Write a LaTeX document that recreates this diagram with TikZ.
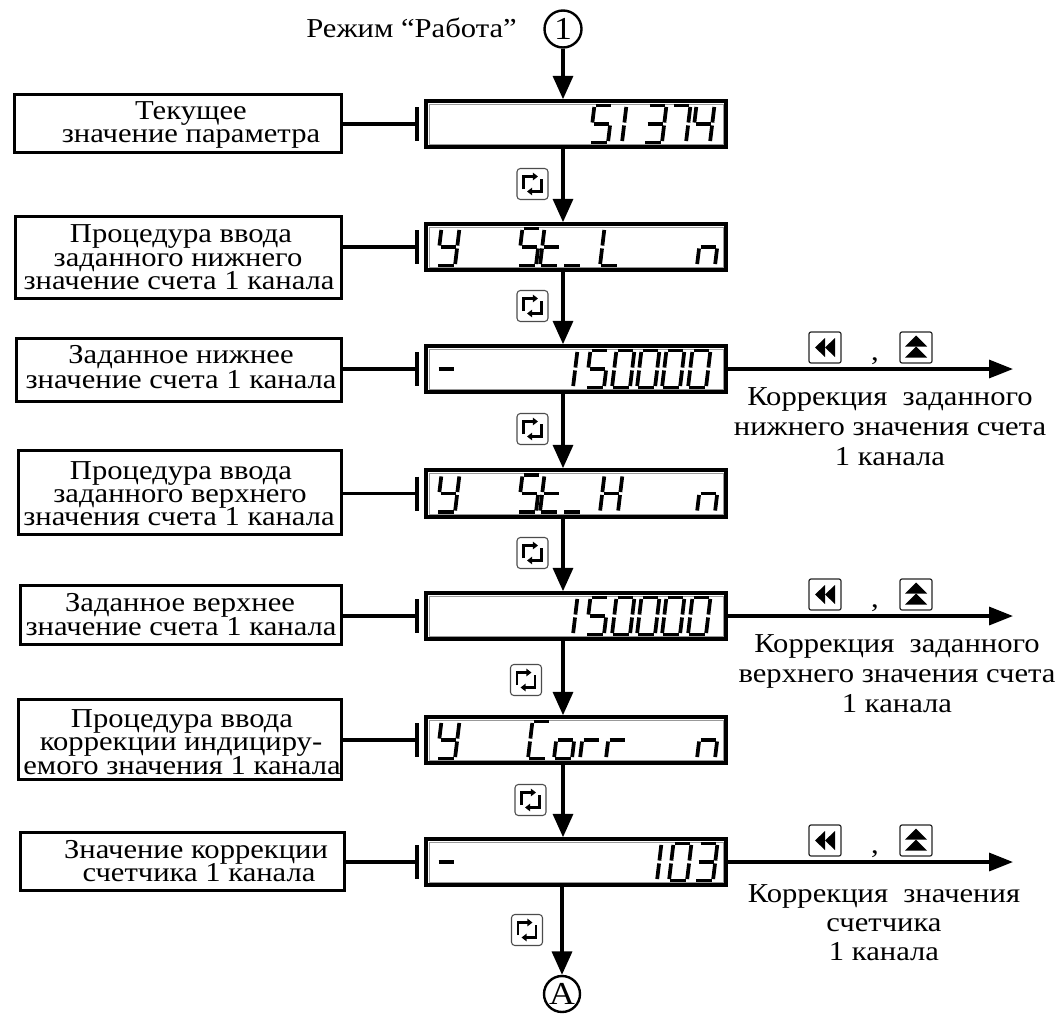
\documentclass[tikz,border=0pt]{standalone}
\usepackage{fontspec}
\setmainfont{Liberation Serif}[FakeStretch=1.12]
\usetikzlibrary{arrows.meta,fit}

% seven-segment pieces (unit cell, y up)
\newcommand\segA{\draw[segl] (0,1)--(1,1);}
\newcommand\segB{\draw[segl] (1,1)--(1,.5);}
\newcommand\segC{\draw[segl] (1,.5)--(1,0);}
\newcommand\segD{\draw[segl] (0,0)--(1,0);}
\newcommand\segE{\draw[segl] (0,0)--(0,.5);}
\newcommand\segF{\draw[segl] (0,.5)--(0,1);}
\newcommand\segG{\draw[segl] (0,.5)--(1,.5);}
\newcommand\glyph[3]{\begin{scope}[shift={(#1,#2)},x=13.5pt,y=27.75pt,xslant=0.12]#3\end{scope}}
\newcommand\ssZero{\segA\segB\segC\segD\segE\segF}
\newcommand\ssOne{\segE\segF}
\newcommand\ssThree{\segA\segB\segC\segD\segG}
\newcommand\ssFour{\segF\segG\segB\segC}
\newcommand\ssFive{\segA\segF\segG\segC\segD}
\newcommand\ssSeven{\segA\segB\segC}
\newcommand\ssY{\segF\segB\segG\segC\segD}
\newcommand\ssT{\segF\segE\segG\segD}
\newcommand\ssUnder{\segD}
\newcommand\ssL{\segF\segE\segD}
\newcommand\ssH{\segB\segC\segE\segF\segG}
\newcommand\ssN{\segE\segG\segC}
\newcommand\ssC{\segA\segF\segE\segD}
\newcommand\ssO{\segG\segC\segD\segE}
\newcommand\ssR{\segE\segG}
\newcommand\ssMinus{\segG}

\newcommand\cycicon[3]{%
  \node[cycbox] (#1) at (#2,#3) {};
  \draw[cyca] ([shift={(-9,5)}]#1.center) -- ([shift={(-9,-7.5)}]#1.center) -- ([shift={(5.5,-7.5)}]#1.center);
  \draw[cyca] ([shift={(9,-5)}]#1.center) -- ([shift={(9,7.5)}]#1.center) -- ([shift={(-5.5,7.5)}]#1.center);
}
\newcommand\keyset[2]{%
  \node[keybox] (#1rw) at (825,#2-21.5) {};
  \fill ([shift={(-10,0)}]#1rw.center) -- ([shift={(0,-9.5)}]#1rw.center) -- ([shift={(0,9.5)}]#1rw.center) -- cycle;
  \fill (#1rw.center) -- ([shift={(10,-9.5)}]#1rw.center) -- ([shift={(10,9.5)}]#1rw.center) -- cycle;
  \node[txt] (#1cm) at (875,#2-9) {,};
  \node[keybox] (#1up) at (916,#2-21.5) {};
  \fill ([shift={(0,-12)}]#1up.center) -- ([shift={(-11,-1)}]#1up.center) -- ([shift={(11,-1)}]#1up.center) -- cycle;
  \fill ([shift={(0,-1)}]#1up.center) -- ([shift={(-11,10)}]#1up.center) -- ([shift={(11,10)}]#1up.center) -- cycle;
}
\newcommand\innerframe[1]{%
  \draw[innerl] ([xshift=3.6pt,yshift=-3.6pt]#1.north west) rectangle ([xshift=-3.6pt,yshift=3.6pt]#1.south east);}

\begin{document}
\begin{tikzpicture}[x=0.75pt,y=-0.75pt,
  txt/.style={font=\fontsize{20.5}{20.5}\selectfont, inner sep=0pt, anchor=base, text height=12.5pt, text depth=3pt},
  big/.style={font=\fontsize{24}{24}\selectfont},
  lbox/.style={draw, line width=2.3pt, inner sep=0pt},
  disp/.style={draw, line width=2.7pt, inner sep=0pt},
  innerl/.style={draw=black!40, line width=0.45pt},
  tconn/.style={line width=2.5pt, -{Bar[width=25.5pt, line width=2.7pt]}},
  flow/.style={line width=2.5pt, -{Triangle[length=17.5pt,width=15pt]}},
  side/.style={line width=2.5pt, -{Triangle[length=18pt,width=13.5pt]}},
  circ/.style={circle, draw, line width=1.8pt, inner sep=0pt},
  segl/.style={line width=2.8pt, shorten <=1.1pt, shorten >=1.1pt},
  cycbox/.style={draw=black!70, line width=0.8pt, rounded corners=2.5pt, minimum size=23.25pt, inner sep=0pt},
  cyca/.style={line width=1.7pt, -{Triangle[length=3.8pt,width=5.5pt]}},
  keybox/.style={draw=black!85, line width=0.9pt, rounded corners=1.5pt, minimum width=24pt, minimum height=23.25pt, inner sep=0pt}
]
\path[fill=white, use as bounding box] (0,0) rectangle (1056,1014);

% title and start circle
\node[txt] (title) at (411.5,37) {Режим “Работа”};
\node[circ, minimum size=27.75pt] (C1) at (563,29) {};
\node[big, inner sep=0pt] (C1t) at (C1.center) {1};

% displays
\node[disp, fit={(426,101) (726,147)}] (D1) {};
\node[disp, fit={(426,224) (726,270)}] (D2) {};
\node[disp, fit={(426,346) (726,392)}] (D3) {};
\node[disp, fit={(426,470) (726,517)}] (D4) {};
\node[disp, fit={(426,593) (726,639)}] (D5) {};
\node[disp, fit={(426,717) (726,763)}] (D6) {};
\node[disp, fit={(426,839) (726,885)}] (D7) {};
\innerframe{D1}\innerframe{D2}\innerframe{D3}\innerframe{D4}\innerframe{D5}\innerframe{D6}\innerframe{D7}

% end circle
\node[circ, minimum size=27pt] (CA) at (562,994) {};
\node[big, inner sep=0pt] (CAt) at (CA.center) {A};

% left boxes
\node[lbox, fit={(14.5,94.5) (341.5,152.5)}] (L1) {};
\node[lbox, fit={(15.5,216.5) (341.5,298.5)}] (L2) {};
\node[lbox, fit={(16.5,338.5) (341.5,401.5)}] (L3) {};
\node[lbox, fit={(18.5,450.5) (341.5,534.5)}] (L4) {};
\node[lbox, fit={(20.5,585.5) (341.5,644.5)}] (L5) {};
\node[lbox, fit={(18.5,699.5) (341.5,779.5)}] (L6) {};
\node[lbox, fit={(20.5,832.5) (344.5,890.5)}] (L7) {};

% left box texts
\node[txt] (l1a) at (191,119) {Текущее};
\node[txt] (l1b) at (191,142) {значение параметра};
\node[txt] (l2a) at (181,242) {Процедура ввода};
\node[txt] (l2b) at (178,266) {заданного нижнего};
\node[txt] (l2c) at (179,289) {значение счета 1 канала};
\node[txt] (l3a) at (181,363) {Заданное нижнее};
\node[txt] (l3b) at (181,388) {значение счета 1 канала};
\node[txt] (l4a) at (181,479) {Процедура ввода};
\node[txt] (l4b) at (180,502) {заданного верхнего};
\node[txt] (l4c) at (179,525) {значения счета 1 канала};
\node[txt] (l5a) at (180,611) {Заданное верхнее};
\node[txt] (l5b) at (181,635) {значение счета 1 канала};
\node[txt] (l6a) at (182,727) {Процедура ввода};
\node[txt] (l6b) at (181,750) {коррекции индициру-};
\node[txt] (l6c) at (182,774) {емого значения 1 канала};
\node[txt] (l7a) at (196,858) {Значение коррекции};
\node[txt] (l7b) at (199,881) {счетчика 1 канала};

% left connectors
\foreach \i in {1,...,7}{
  \draw[tconn] (L\i.east |- D\i.west) -- ([xshift=-4pt]D\i.west);
}

% flow
\draw[flow] (C1.south) -- (C1.south |- D1.north);
\foreach \i/\j in {1/2,2/3,3/4,4/5,5/6,6/7}{
  \draw[flow] (D\i.south -| C1) -- (D\j.north -| C1);
}
\draw[flow] (D7.south -| CA) -- (CA.north);

% cycle icons
\cycicon{k1}{532.5}{184}
\cycicon{k2}{532.5}{306}
\cycicon{k3}{532.5}{429}
\cycicon{k4}{532.5}{553}
\cycicon{k5}{526}{680}
\cycicon{k6}{530.5}{800}
\cycicon{k7}{527}{930}

% side arrows
\coordinate (e3) at (1013,369);
\coordinate (e5) at (1013,616);
\coordinate (e7) at (1013,862);
\draw[side] (D3.east) -- (e3);
\draw[side] (D5.east) -- (e5);
\draw[side] (D7.east) -- (e7);
\keyset{r3}{369}
\keyset{r5}{616}
\keyset{r7}{862}

\node[txt] (r3a) at (890,405) {Коррекция~~заданного};
\node[txt] (r3b) at (890,435) {нижнего значения счета};
\node[txt] (r3c) at (890,465) {1 канала};
\node[txt] (r5a) at (897,652) {Коррекция~~заданного};
\node[txt] (r5b) at (897,682) {верхнего значения счета};
\node[txt] (r5c) at (897,712) {1 канала};
\node[txt] (r7a) at (884,902) {Коррекция~~значения};
\node[txt] (r7b) at (884,931) {счетчика};
\node[txt] (r7c) at (884,960) {1 канала};

% seven-segment contents
% D1: 51374
\glyph{590}{142.5}{\ssFive}\glyph{622}{142.5}{\ssOne}\glyph{644}{142.5}{\ssThree}\glyph{668}{142.5}{\ssSeven}\glyph{692}{142.5}{\ssFour}
% D2: Y St_L n
\glyph{437}{265.5}{\ssY}\glyph{518}{265.5}{\ssFive}\glyph{540}{265.5}{\ssT}\glyph{563}{265.5}{\ssUnder}\glyph{600}{265.5}{\ssL}\glyph{697}{265.5}{\ssN}
% D3: - 150000
\glyph{435}{387.5}{\ssMinus}\glyph{573}{387.5}{\ssOne}\glyph{586}{387.5}{\ssFive}\glyph{612}{387.5}{\ssZero}\glyph{637}{387.5}{\ssZero}\glyph{662}{387.5}{\ssZero}\glyph{688}{387.5}{\ssZero}
% D4: Y St_H n
\glyph{437}{512}{\ssY}\glyph{518}{512}{\ssFive}\glyph{540}{512}{\ssT}\glyph{563}{512}{\ssUnder}\glyph{600}{512}{\ssH}\glyph{697}{512}{\ssN}
% D5: 150000
\glyph{573}{634.5}{\ssOne}\glyph{586}{634.5}{\ssFive}\glyph{612}{634.5}{\ssZero}\glyph{637}{634.5}{\ssZero}\glyph{662}{634.5}{\ssZero}\glyph{688}{634.5}{\ssZero}
% D6: Y Corr n
\glyph{437}{758.5}{\ssY}\glyph{528}{758.5}{\ssC}\glyph{554}{758.5}{\ssO}\glyph{580}{758.5}{\ssR}\glyph{606}{758.5}{\ssR}\glyph{697}{758.5}{\ssN}
% D7: - 103
\glyph{435}{880.5}{\ssMinus}\glyph{657}{880.5}{\ssOne}\glyph{669}{880.5}{\ssZero}\glyph{695}{880.5}{\ssThree}
\end{tikzpicture}
\end{document}
